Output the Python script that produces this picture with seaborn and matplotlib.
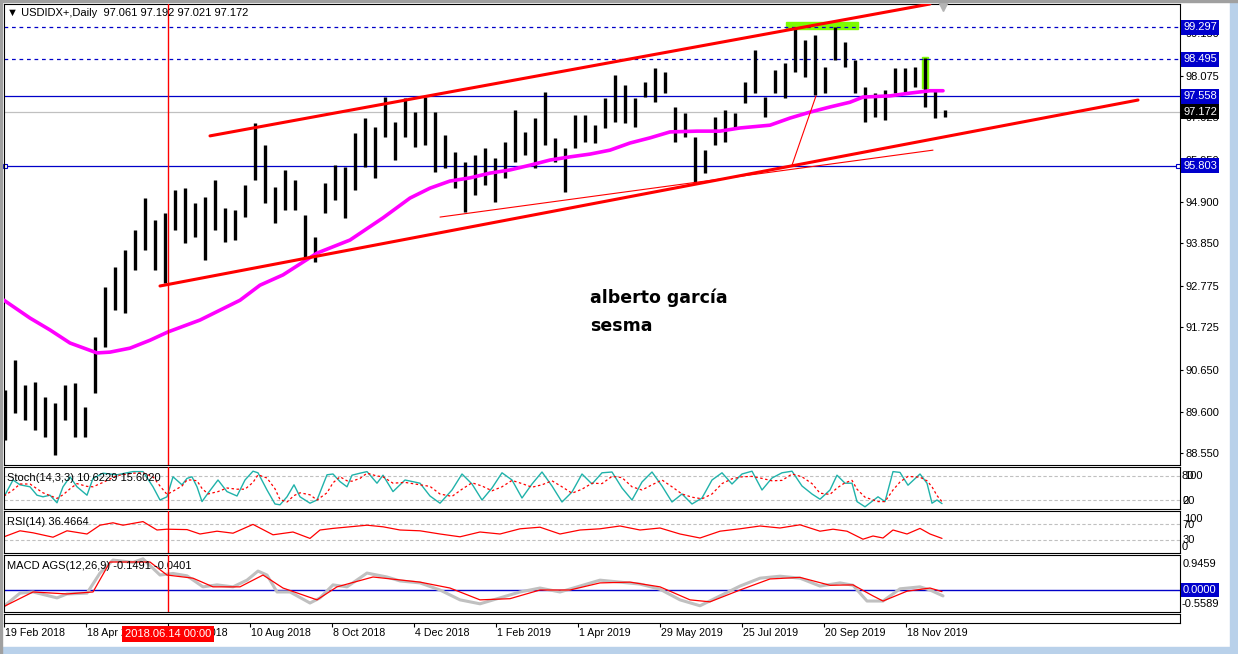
import matplotlib
matplotlib.use("Agg")
import matplotlib.pyplot as plt
import matplotlib.transforms as mtransforms
from matplotlib.patches import Rectangle
import seaborn as sns

# --- dados (barras agrupadas por semana) ---
bar_high = [90.14, 90.90, 90.27, 90.34, 89.96, 89.81, 90.27, 90.32, 89.71, 91.48,
            92.74, 93.25, 93.68, 94.18, 94.99, 94.43, 94.61, 95.19, 95.24, 94.86,
            95.02, 95.44, 94.74, 94.69, 95.32, 96.88, 96.33, 95.27, 95.70, 95.44,
            94.56, 94.01, 95.37, 95.82, 95.77, 96.63, 97.01, 96.78, 97.54, 96.91,
            97.52, 97.16, 97.54, 97.16, 96.58, 96.15, 95.90, 96.08, 96.25, 96.00,
            96.40, 97.21, 96.66, 97.01, 97.67, 96.51, 96.25, 97.09, 97.09, 96.83,
            97.52, 98.10, 97.84, 97.52, 97.92, 98.27, 98.17, 97.29, 97.14, 96.53,
            96.20, 97.04, 97.21, 97.14, 97.92, 98.73, 97.54, 98.22, 98.40, 99.31,
            98.98, 99.11, 98.30, 99.31, 98.93, 98.47, 97.79, 97.64, 97.72, 98.27,
            98.27, 98.30, 98.53, 97.72, 97.21]
bar_low = [88.88, 89.56, 89.38, 89.13, 88.95, 88.50, 89.38, 88.95, 88.95, 90.07,
           91.23, 92.16, 92.09, 93.17, 93.68, 93.17, 92.84, 94.18, 93.85, 94.01,
           93.42, 94.18, 93.88, 93.93, 94.51, 95.44, 94.86, 94.36, 94.69, 94.69,
           93.42, 93.37, 94.61, 94.94, 94.49, 95.19, 95.77, 95.50, 96.53, 95.95,
           96.53, 96.28, 96.33, 95.65, 95.75, 95.24, 94.64, 95.07, 95.32, 94.89,
           95.50, 95.90, 96.08, 95.75, 96.33, 95.90, 95.14, 96.25, 96.40, 96.38,
           96.76, 96.91, 96.88, 96.78, 97.54, 97.41, 97.64, 96.40, 96.53, 95.37,
           95.62, 96.33, 96.40, 96.78, 97.39, 97.64, 97.04, 97.64, 97.52, 98.17,
           98.05, 97.59, 97.64, 98.47, 98.30, 97.64, 96.91, 97.04, 96.96, 97.64,
           97.67, 97.79, 97.29, 97.01, 97.04]

ma_pos = [-0.1, 2.5, 4.5, 6.5, 9.2, 10.5, 12.5, 14.5, 16.3, 19.5, 23.5, 25.5, 27.8,
          31.2, 34.5, 37.8, 40.5, 42.5, 44.5, 46.5, 48.5, 50.5, 52.5, 54.5, 56.5,
          58.5, 60.5, 62.5, 64.5, 66.5, 69.2, 71.5, 73.5, 76.5, 78.5, 80.5, 82.5,
          84.5, 85.8, 88.5, 90.5, 92.5, 93.8]
ma_val = [92.41, 91.96, 91.66, 91.33, 91.08, 91.10, 91.20, 91.40, 91.61, 91.91,
          92.41, 92.79, 93.05, 93.60, 93.93, 94.49, 94.99, 95.24, 95.42, 95.50,
          95.62, 95.70, 95.82, 95.95, 96.03, 96.10, 96.20, 96.38, 96.51, 96.66,
          96.68, 96.68, 96.76, 96.83, 97.01, 97.16, 97.29, 97.41, 97.54, 97.57,
          97.64, 97.70, 97.70]

channel_up_x, channel_up_y = [20.5, 92.5], [96.56, 99.89]
channel_dn_x, channel_dn_y = [15.5, 113.3], [92.77, 97.465]
thin_a_x, thin_a_y = [43.5, 92.8], [94.51, 96.20]
thin_b_x, thin_b_y = [78.7, 81.1], [95.82, 97.57]

price_ticks = [88.55, 89.60, 90.65, 91.725, 92.775, 93.85, 94.90, 95.95,
               97.025, 98.075, 99.15]
level_dashed = [99.297, 98.495]
level_solid = [97.558, 95.803]
last_price = 97.172

stoch_pos = [-0.1, 0.8, 1.5, 2.5, 3.2, 3.8, 4.5, 5.2, 5.8, 6.5,
             7.2, 8.2, 8.8, 9.8, 11.2, 12.8, 13.8, 14.8, 15.5, 16.2,
             16.8, 17.7, 18.2, 18.7, 19.2, 19.7, 20.3, 21.3, 22.2, 23.2,
             24.0, 24.8, 25.3, 26.2, 27.0, 27.5, 28.2, 28.9, 29.5, 30.5,
             31.2, 32.2, 32.8, 33.5, 34.2, 34.7, 35.5, 36.2, 37.2, 37.8,
             38.8, 40.0, 41.5, 42.5, 43.5, 44.7, 45.7, 46.7, 47.7, 48.7,
             49.7, 50.7, 51.7, 52.7, 53.7, 54.7, 55.7, 56.7, 57.7, 58.7,
             59.7, 60.7, 61.7, 62.7, 63.7, 64.7, 65.7, 66.7, 67.7, 68.7,
             69.7, 70.7, 71.7, 72.7, 73.7, 74.7, 75.7, 76.7, 77.7, 78.7,
             79.7, 80.7, 81.5, 82.5, 83.2, 84.0, 84.7, 85.2, 86.0, 87.3,
             88.0, 88.8, 89.5, 90.3, 91.5, 92.2, 92.7, 93.2, 93.7]
stoch_main = [28, 70, 58, 53, 32, 28, 32, 13, 53, 78,
              53, 32, 74, 87, 83, 91, 91, 53, 20, 28,
              78, 58, 74, 78, 53, 16, 37, 70, 41, 30,
              70, 92, 88, 45, 10, 8, 28, 58, 28, 12,
              20, 83, 85, 66, 53, 82, 87, 91, 62, 82,
              41, 70, 62, 30, 12, 45, 85, 60, 20, 50,
              88, 70, 25, 60, 90, 55, 15, 40, 85, 60,
              88, 90, 50, 20, 65, 90, 55, 15, 35, 10,
              25, 70, 88, 60, 85, 92, 45, 75, 88, 92,
              55, 35, 22, 45, 82, 62, 62, 16, 3, 28,
              16, 91, 89, 57, 85, 62, 12, 20, 11]
stoch_signal = [30, 45, 60, 60, 48, 38, 31, 24, 33, 48,
                61, 54, 53, 64, 81, 87, 88, 78, 55, 34,
                42, 55, 70, 70, 68, 49, 35, 41, 50, 47,
                47, 64, 83, 75, 48, 21, 15, 31, 38, 33,
                20, 38, 63, 78, 68, 67, 74, 87, 80, 78,
                62, 64, 58, 54, 35, 29, 47, 63, 55, 43,
                53, 69, 61, 52, 58, 68, 53, 37, 47, 62,
                61, 79, 76, 53, 45, 58, 70, 53, 35, 27,
                23, 35, 61, 73, 78, 79, 74, 68, 69, 85,
                78, 61, 37, 34, 50, 63, 69, 47, 27, 16,
                16, 45, 65, 79, 77, 68, 53, 31, 16]

rsi_pos = [-0.1, 1.5, 2.8, 4.8, 6.2, 8.2, 9.5, 10.8, 11.8, 13.8, 15.2, 16.2, 18.2,
           19.5, 21.2, 22.8, 24.8, 26.8, 28.8, 30.5, 31.5, 32.8, 36.2, 37.8, 39.5,
           41.5, 43.5, 45.5, 47.5, 49.5, 51.5, 53.5, 55.5, 57.5, 59.5, 61.5, 63.5,
           65.5, 67.5, 69.5, 71.5, 73.5, 75.5, 77.5, 79.5, 81.5, 82.8, 84.2, 85.8,
           86.8, 87.8, 88.8, 90.2, 91.5, 92.5, 93.7]
rsi_val = [38, 53, 48, 37, 53, 45, 67, 73, 67, 76, 55, 57, 56,
           45, 52, 47, 69, 43, 50, 34, 55, 59, 67, 63, 55,
           53, 45, 38, 50, 45, 58, 62, 45, 55, 58, 65, 55,
           60, 45, 35, 52, 58, 65, 60, 68, 52, 57, 52, 32,
           40, 35, 55, 45, 59, 45, 34]

macd_pos = [-0.2, 1.5, 2.8, 5.2, 6.2, 8.2, 9.5, 10.8, 12.8, 13.8, 15.5, 16.8, 18.2,
            19.8, 21.2, 22.8, 24.2, 25.3, 26.2, 27.2, 28.5, 30.5, 31.5, 32.8, 34.2,
            36.2, 38.2, 39.5, 41.5, 43.5, 45.5, 47.5, 49.5, 51.5, 53.5, 55.5, 57.5,
            59.5, 61.5, 63.5, 65.5, 67.5, 69.5, 71.5, 73.5, 75.5, 77.5, 79.5, 81.5,
            83.5, 84.8, 86.2, 87.8, 89.5, 91.5, 92.5, 93.8]
macd_main = [-0.43, -0.08, -0.05, -0.20, -0.10, -0.08, 0.43, 0.76, 0.70, 0.79, 0.38, 0.42, 0.36,
             0.08, 0.13, 0.08, 0.25, 0.48, 0.38, -0.05, -0.05, -0.33, -0.20, 0.13, 0.08,
             0.43, 0.33, 0.23, 0.18, 0.00, -0.25, -0.35, -0.20, -0.05, 0.05, -0.05, 0.10,
             0.25, 0.20, 0.15, 0.02, -0.25, -0.40, -0.15, 0.10, 0.30, 0.35, 0.30, 0.10,
             0.18, 0.12, -0.28, -0.28, 0.03, 0.08, 0.00, -0.15]
signal_pos = [-0.2, 2.8, 6.2, 8.8, 10.5, 14.5, 16.2, 18.8, 20.8, 23.5, 25.8, 27.8,
              31.2, 33.2, 36.8, 41.5, 44.5, 47.5, 50.5, 53.5, 56.5, 59.5, 62.5, 65.5,
              68.5, 70.5, 73.5, 76.5, 79.5, 82.5, 84.8, 86.8, 87.8, 90.2, 92.5, 93.7]
macd_signal = [-0.43, -0.05, -0.10, -0.05, 0.71, 0.71, 0.38, 0.30, 0.08, 0.08, 0.38, 0.05,
               -0.25, 0.08, 0.33, 0.20, 0.05, -0.25, -0.22, 0.00, 0.00, 0.18, 0.20, 0.08,
               -0.25, -0.30, 0.00, 0.28, 0.32, 0.12, 0.13, -0.15, -0.28, -0.03, 0.05, -0.04]

date_labels = ["19 Feb 2018", "18 Apr 2018", "14 Jun 2018", "10 Aug 2018",
               "8 Oct 2018", "4 Dec 2018", "1 Feb 2019", "1 Apr 2019",
               "29 May 2019", "25 Jul 2019", "20 Sep 2019", "18 Nov 2019"]
cursor_pos = 16.3

# --- estilo ---
sns.set_style("white")
plt.rcParams["font.family"] = ["Liberation Sans", "DejaVu Sans"]
plt.rcParams["text.color"] = "black"
plt.rcParams["xtick.color"] = "black"
plt.rcParams["ytick.color"] = "black"

W, H = 1238, 654
fig = plt.figure(figsize=(W / 100, H / 100), dpi=100)
fig.patch.set_facecolor("white")
BLUE = "#0000c8"


def painel(top, bottom):
    ax = fig.add_axes([4 / W, 1 - bottom / H, 1176 / W, (bottom - top) / H])
    ax.set_xlim(-0.1, 117.5)
    for s in ax.spines.values():
        s.set_linewidth(0.8)
        s.set_color("black")
    ax.set_xticks([])
    ax.set_yticks([])
    return ax


def rotulo(ax, y, txt, fc=None, color="black", dx=3):
    tr = mtransforms.blended_transform_factory(ax.transAxes, ax.transData)
    kw = {}
    if fc:
        kw["bbox"] = dict(boxstyle="square,pad=0.22", fc=fc, ec="none")
    ax.text(1 + dx / 1176, y, txt, transform=tr, ha="left", va="center",
            fontsize=8, color=color, clip_on=False, zorder=8, **kw)


# --- painel de preço ---
ax = painel(4, 465)
ax.set_ylim(88.25, 99.89)
ax.yaxis.tick_right()
ax.set_yticks(price_ticks)
ax.set_yticklabels([f"{v:.3f}" for v in price_ticks])
ax.tick_params(axis="y", direction="out", length=2.5, width=0.8, pad=1.5,
               labelsize=8, right=True, left=False, colors="black")

ax.add_patch(Rectangle((78.1, 99.26), 7.2, 0.17, color="#7cfc00", zorder=1))
ax.add_patch(Rectangle((91.7, 97.77), 0.6, 0.78, color="#7cfc00", zorder=1))

for lv in level_dashed:
    ax.axhline(lv, color=BLUE, lw=0.9, ls=(0, (3, 3)), zorder=1.5)
for lv in level_solid:
    ax.axhline(lv, color=BLUE, lw=0.9, zorder=1.5)
ax.plot([-0.05, 117.3], [95.803, 95.803], ls="none", marker="s", ms=3,
        mfc="white", mec=BLUE, mew=0.8, clip_on=False, zorder=2)
ax.axhline(last_price, color="#c0c0c0", lw=0.9, zorder=1.4)

ax.vlines(range(len(bar_high)), bar_low, bar_high, color="black", lw=2.4, zorder=2)

sns.lineplot(x=ma_pos, y=ma_val, color="#ff00ff", lw=2.6, ax=ax, zorder=3, legend=False)
sns.lineplot(x=channel_up_x, y=channel_up_y, color="red", lw=2.2, ax=ax, zorder=4)
sns.lineplot(x=channel_dn_x, y=channel_dn_y, color="red", lw=2.2, ax=ax, zorder=4)
sns.lineplot(x=thin_a_x, y=thin_a_y, color="red", lw=0.8, ax=ax, zorder=4)
sns.lineplot(x=thin_b_x, y=thin_b_y, color="red", lw=0.8, ax=ax, zorder=4)
ax.plot([93.8], [99.84], marker="v", ms=7, color="#b4b4b4", clip_on=False, zorder=5)

ax.text(58.5, 92.47, "alberto garcía", fontsize=12.5, fontweight="bold",
        family=["DejaVu Sans"], va="center", ha="left", color="black")
ax.text(58.5, 91.76, "sesma", fontsize=12.5, fontweight="bold",
        family=["DejaVu Sans"], va="center", ha="left", color="black")

for lv in level_dashed + level_solid:
    rotulo(ax, lv, f"{lv:.3f}", fc="#0000cc", color="white")
rotulo(ax, last_price, f"{last_price:.3f}", fc="black", color="white")
ax.set_xlabel("")
ax.set_ylabel("")

# --- estocástico ---
ax_st = painel(467, 509)
ax_st.set_ylim(-2.5, 102.5)
for lv in (80, 20):
    ax_st.axhline(lv, color="#c0c0c0", lw=0.8, ls=(0, (3, 2)))
sns.lineplot(x=stoch_pos, y=stoch_main, color="#20b2aa", lw=1.0, ax=ax_st)
sns.lineplot(x=stoch_pos, y=stoch_signal, color="red", lw=0.9, ax=ax_st,
             linestyle=(0, (2, 2)))
ax_st.text(3 / 1176, 0.74, "Stoch(14,3,3) 10.6229 15.6020", transform=ax_st.transAxes,
           fontsize=8, va="center")
rotulo(ax_st, 80, "80", dx=2)
rotulo(ax_st, 80, "100", dx=4)
rotulo(ax_st, 17.5, "20", dx=2)
rotulo(ax_st, 17.5, "0", dx=3)
ax_st.set_xlabel(""); ax_st.set_ylabel("")

# --- RSI ---
ax_rsi = painel(511, 553)
ax_rsi.set_ylim(-2.5, 102.5)
for lv in (70, 30):
    ax_rsi.axhline(lv, color="#c0c0c0", lw=0.8, ls=(0, (3, 2)))
sns.lineplot(x=rsi_pos, y=rsi_val, color="red", lw=0.9, ax=ax_rsi)
ax_rsi.text(3 / 1176, 0.74, "RSI(14) 36.4664", transform=ax_rsi.transAxes,
            fontsize=8, va="center")
rotulo(ax_rsi, 82.5, "100", dx=4)
rotulo(ax_rsi, 67.5, "70", dx=2)
rotulo(ax_rsi, 30, "30", dx=3)
rotulo(ax_rsi, 12.5, "0", dx=2)
ax_rsi.set_xlabel(""); ax_rsi.set_ylabel("")

# --- MACD ---
ax_m = painel(555, 612)
ax_m.set_ylim(-0.558, 0.888)
ax_m.axhline(0, color=BLUE, lw=1.0)
sns.lineplot(x=macd_pos, y=macd_main, color="#c0c0c0", lw=2.2, ax=ax_m)
sns.lineplot(x=signal_pos, y=macd_signal, color="red", lw=0.9, ax=ax_m)
ax_m.text(3 / 1176, 0.81, "MACD AGS(12,26,9) -0.1491 -0.0401", transform=ax_m.transAxes,
          fontsize=8, va="center")
rotulo(ax_m, 0.66, "0.9459")
rotulo(ax_m, 0.0, "0.0000", fc="#0000cc", color="white")
rotulo(ax_m, -0.355, "-0.5589", dx=1.5)
ax_m.set_xlabel(""); ax_m.set_ylabel("")

for a in (ax, ax_st, ax_rsi, ax_m):
    a.axvline(cursor_pos, color="red", lw=1.0, zorder=6)

# --- eixo de datas ---
ax_b = painel(614, 623)
ax_b.set_ylim(0, 1)
date_pos = [-0.1 + 8.2 * k for k in range(len(date_labels))]
ax_b.set_xticks(date_pos)
ax_b.tick_params(axis="x", direction="out", length=3, width=0.8, labelbottom=False,
                 bottom=True)
for p, lab in zip(date_pos, date_labels):
    ax_b.annotate(lab, xy=(p, 0), xycoords=("data", "axes fraction"), xytext=(0.8, -3.5),
                  textcoords="offset points", ha="left", va="top", fontsize=7.7,
                  annotation_clip=False)
ax_b.annotate("2018.06.14 00:00", xy=(cursor_pos, 0), xycoords=("data", "axes fraction"),
              xytext=(0, -4.2), textcoords="offset points", ha="center", va="top",
              fontsize=8, color="white", zorder=9, annotation_clip=False,
              bbox=dict(boxstyle="square,pad=0.25", fc="red", ec="none"))

# --- moldura da janela ---
fig.patches.append(Rectangle((1230 / W, 0), 8 / W, 1, transform=fig.transFigure,
                             color="#b9d1ea", zorder=0))
fig.patches.append(Rectangle((0, 0), 1, 7 / H, transform=fig.transFigure,
                             color="#b9d1ea", zorder=0))
fig.patches.append(Rectangle((0, 1 - 1.5 / H), 1, 1.5 / H, transform=fig.transFigure,
                             color="#a0a0a0", zorder=0))
fig.patches.append(Rectangle((0, 0), 1.5 / W, 1, transform=fig.transFigure,
                             color="#a0a0a0", zorder=0))

fig.text(7 / W, 1 - 13 / H, "▼ USDIDX+,Daily  97.061 97.192 97.021 97.172",
         fontsize=8, va="center", ha="left")

fig.savefig("out.png", dpi=100)
